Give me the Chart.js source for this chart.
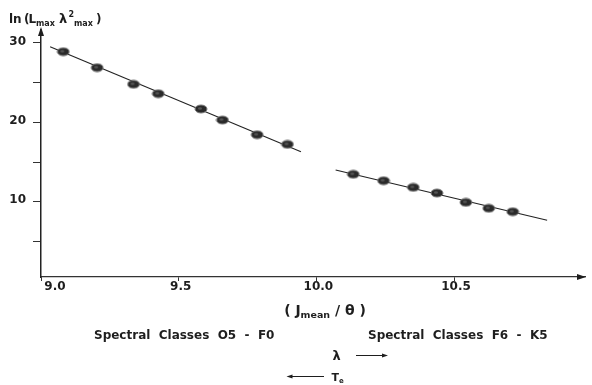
<!DOCTYPE html>
<html>
<head>
<meta charset="utf-8">
<script src="https://cdn.jsdelivr.net/npm/chart.js@4/dist/chart.umd.min.js"></script>
<style>
  html, body { margin: 0; padding: 0; background: #fff; }
  #wrap { width: 592px; height: 385px; position: relative; }
</style>
</head>
<body>
<div id="wrap"><canvas id="c" width="592" height="385"></canvas></div>
<script>
// Hot stars (O5 - F0): x = J_mean / theta, y = ln(L_max * lambda_max^2)
const hotX = [9.081, 9.204, 9.336, 9.426, 9.581, 9.659, 9.785, 9.895];
const hotY = [28.90, 26.89, 24.80, 23.61, 21.69, 20.30, 18.45, 17.24];
// Cool stars (F6 - K5)
const coolX = [10.134, 10.244, 10.352, 10.438, 10.543, 10.626, 10.713];
const coolY = [13.47, 12.66, 11.83, 11.11, 9.94, 9.19, 8.76];
// Straight-line fits through each group (end points)
const hotFitX = [9.033, 9.944];
const hotFitY = [29.53, 16.31];
const coolFitX = [10.07, 10.838];
const coolFitY = [14.01, 7.68];
// Axis ticks
const xTicks = [9.0, 9.5, 10.0, 10.5];
const xTickLabels = ['9.0', '9.5', '10.0', '10.5'];
const yTicks = [5, 10, 15, 20, 25, 30];
const yLabelled = [10, 20, 30];

const pts = (xs, ys) => xs.map((x, i) => ({ x: x, y: ys[i] }));

// Slightly flattened dark dot used as the marker
const dot = document.createElement('canvas');
dot.width = 14; dot.height = 10;
(function () {
  const g = dot.getContext('2d');
  g.beginPath();
  g.ellipse(7, 5, 6, 4, 0, 0, Math.PI * 2);
  g.fillStyle = '#2a2a2a';
  g.fill();
  g.lineWidth = 1;
  g.strokeStyle = '#7a7a7a';
  g.stroke();
  g.beginPath();
  g.ellipse(6, 4.5, 2, 1.2, 0, 0, Math.PI * 2);
  g.fillStyle = '#555';
  g.fill();
})();

const FONT = '"DejaVu Sans", Verdana, sans-serif';
const INK = '#1e1e1e';

// Draws text pieces (normal / sub / sup) left to right
function drawRich(ctx, x, y, parts) {
  let cx = x;
  parts.forEach(p => {
    ctx.font = 'bold ' + p.size + 'px ' + FONT;
    if (p.x !== undefined) cx = p.x;
    ctx.fillText(p.t, cx, y + (p.dy || 0));
    cx += ctx.measureText(p.t).width;
  });
  return cx;
}
function richWidth(ctx, parts) {
  let w = 0;
  parts.forEach(p => {
    ctx.font = 'bold ' + p.size + 'px ' + FONT;
    w += ctx.measureText(p.t).width;
  });
  return w;
}

const annotate = {
  id: 'annotate',
  afterDraw(chart) {
    const ctx = chart.ctx;
    const xs = chart.scales.x;
    const a = chart.chartArea;
    ctx.save();
    ctx.fillStyle = INK;
    ctx.strokeStyle = INK;

    // axis arrow heads
    ctx.beginPath();
    ctx.moveTo(a.left, a.top - 3);
    ctx.lineTo(a.left - 3, a.top + 6);
    ctx.lineTo(a.left + 3, a.top + 6);
    ctx.closePath();
    ctx.fill();
    ctx.beginPath();
    ctx.moveTo(a.right + 1, a.bottom);
    ctx.lineTo(a.right - 8, a.bottom - 3);
    ctx.lineTo(a.right - 8, a.bottom + 3);
    ctx.closePath();
    ctx.fill();

    // x tick labels
    ctx.font = 'bold 12px ' + FONT;
    ctx.textAlign = 'center';
    ctx.textBaseline = 'middle';
    xTicks.forEach((v, i) => {
      const px = xs.getPixelForValue(v) + (i === 0 ? 14 : 2);
      ctx.fillText(xTickLabels[i], px, a.bottom + 10);
    });

    ctx.textAlign = 'left';
    ctx.textBaseline = 'alphabetic';

    // y axis title: ln (L_max lambda^2_max)
    drawRich(ctx, 9, 23, [
      { t: 'ln', size: 12, x: 9 },
      { t: '(', size: 12, x: 24 },
      { t: 'L', size: 12, x: 28.5 },
      { t: 'max', size: 8, dy: 3, x: 36 },
      { t: 'λ', size: 13, x: 59 },
      { t: '2', size: 8, dy: -6, x: 68.5 },
      { t: 'max', size: 8, dy: 3, x: 74 },
      { t: ')', size: 12, x: 96 }
    ]);

    // x axis title: ( J_mean / theta )
    const xt = [
      { t: '( J', size: 14 },
      { t: 'mean', size: 9.5, dy: 3 },
      { t: ' / θ )', size: 14 }
    ];
    const xtw = richWidth(ctx, xt);
    drawRich(ctx, 325 - xtw / 2, 315, xt);

    // spectral class captions
    ctx.font = 'bold 12px ' + FONT;
    ctx.fillText('Spectral  Classes  O5  -  F0', 94, 338.5);
    ctx.fillText('Spectral  Classes  F6  -  K5', 368, 338.5);

    // lambda increases to the right
    ctx.font = 'bold 13px ' + FONT;
    ctx.fillText('λ', 332.5, 360);
    ctx.lineWidth = 1;
    ctx.beginPath();
    ctx.moveTo(356, 355.5); ctx.lineTo(385, 355.5); ctx.stroke();
    ctx.beginPath();
    ctx.moveTo(388, 355.5); ctx.lineTo(382, 353.5); ctx.lineTo(382, 357.5); ctx.closePath(); ctx.fill();

    // effective temperature increases to the left
    ctx.beginPath();
    ctx.moveTo(290, 376.5); ctx.lineTo(324, 376.5); ctx.stroke();
    ctx.beginPath();
    ctx.moveTo(286.5, 376.5); ctx.lineTo(292.5, 374.5); ctx.lineTo(292.5, 378.5); ctx.closePath(); ctx.fill();
    drawRich(ctx, 331.5, 381, [
      { t: 'T', size: 11 },
      { t: 'e', size: 7, dy: 2 }
    ]);

    ctx.restore();
  }
};

new Chart(document.getElementById('c'), {
  type: 'scatter',
  data: {
    datasets: [
      { label: 'O5 - F0', data: pts(hotX, hotY), pointStyle: dot, pointRadius: 6, order: 0 },
      { label: 'F6 - K5', data: pts(coolX, coolY), pointStyle: dot, pointRadius: 6, order: 0 },
      { label: 'fit O5 - F0', data: pts(hotFitX, hotFitY), showLine: true, pointRadius: 0,
        borderColor: '#222', borderWidth: 1.1, order: 1 },
      { label: 'fit F6 - K5', data: pts(coolFitX, coolFitY), showLine: true, pointRadius: 0,
        borderColor: '#222', borderWidth: 1.1, order: 1 }
    ]
  },
  options: {
    responsive: false,
    animation: false,
    events: [],
    layout: { padding: { left: 0, top: 30, right: 2, bottom: 0 } },
    plugins: { legend: { display: false }, tooltip: { enabled: false } },
    scales: {
      x: {
        type: 'linear',
        min: 9.0,
        max: 10.9755,
        afterBuildTicks: s => { s.ticks = xTicks.map(v => ({ value: v })); },
        afterFit: s => { s.height = 108; },
        ticks: { display: false },
        grid: { display: true, drawOnChartArea: false, drawTicks: true, tickLength: 4, color: '#333', lineWidth: 1 },
        border: { display: true, color: '#333', width: 1.3 }
      },
      y: {
        type: 'linear',
        min: 0.54,
        max: 31.633,
        afterBuildTicks: s => { s.ticks = yTicks.map(v => ({ value: v })); },
        afterFit: s => { s.width = 41; },
        ticks: {
          padding: 7,
          labelOffset: -1.5,
          color: INK,
          font: { family: FONT, size: 12, weight: 'bold' },
          callback: v => (yLabelled.includes(v) ? String(v) : '')
        },
        grid: { display: true, drawOnChartArea: false, drawTicks: true, tickLength: 8, color: '#333', lineWidth: 1 },
        border: { display: true, color: '#222', width: 1.5 }
      }
    }
  },
  plugins: [annotate]
});
</script>
</body>
</html>
